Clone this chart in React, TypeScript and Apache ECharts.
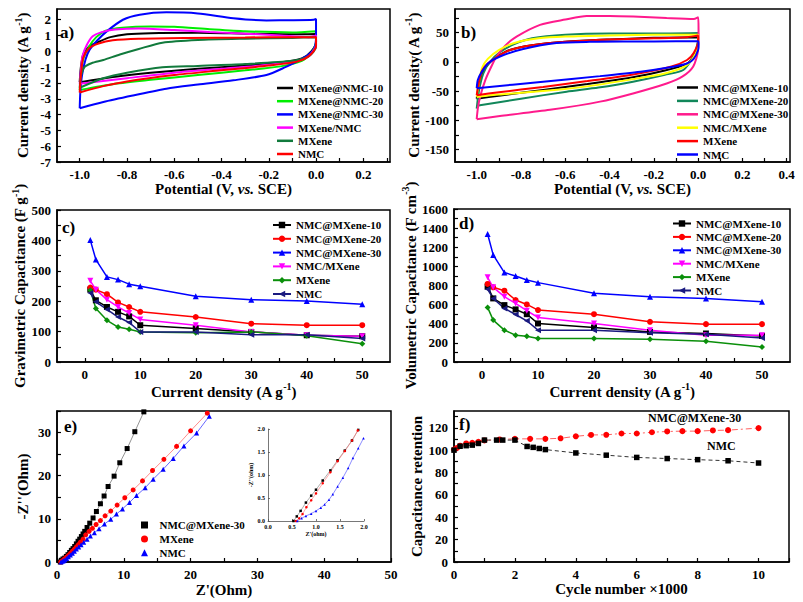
import React, { useEffect, useRef } from 'react';
import * as echarts from 'echarts';

const FONT = '"Liberation Serif", "Times New Roman", serif';

// ---------- Panel a: CV loops (V, A g-1) ----------
const A_NAMES = ['MXene@NMC-10', 'MXene@NMC-20', 'MXene@NMC-30', 'MXene/NMC', 'MXene', 'NMC'];
const A_COLORS = ['#000000', '#00ee00', '#0000ff', '#ff00ff', '#117a3c', '#ff0000'];
const A_MXNMC10 = [[-1.0,-1.95],[-0.995,-1.0],[-0.985,-0.2],[-0.96,0.3],[-0.92,0.6],[-0.87,0.9],[-0.8,1.08],[-0.7,1.15],[-0.5,1.17],[-0.3,1.12],[-0.1,1.08],[0,1.1],[0,0.6],[-0.02,0.0],[-0.06,-0.45],[-0.15,-0.7],[-0.3,-0.9],[-0.5,-1.1],[-0.7,-1.35],[-0.85,-1.6],[-1.0,-1.95]];
const A_MXNMC20 = [[-1.0,-2.45],[-0.995,-1.5],[-0.985,-0.5],[-0.96,0.3],[-0.93,0.9],[-0.89,1.3],[-0.82,1.5],[-0.7,1.58],[-0.6,1.55],[-0.45,1.4],[-0.3,1.27],[-0.1,1.2],[0,1.28],[0,0.6],[-0.02,-0.1],[-0.06,-0.6],[-0.15,-0.95],[-0.3,-1.2],[-0.5,-1.5],[-0.7,-1.8],[-0.85,-2.05],[-1.0,-2.45]];
const A_MXNMC30 = [[-1.0,-3.6],[-0.997,-2.5],[-0.99,-1.5],[-0.975,-0.5],[-0.958,0.1],[-0.925,0.7],[-0.887,1.25],[-0.817,2.0],[-0.746,2.32],[-0.633,2.47],[-0.5,2.4],[-0.35,2.1],[-0.21,1.96],[-0.1,1.97],[-0.01,2.0],[0,2.05],[0,0.8],[-0.01,0.1],[-0.04,-0.3],[-0.07,-0.55],[-0.13,-1.0],[-0.21,-1.5],[-0.35,-1.83],[-0.5,-2.1],[-0.633,-2.36],[-0.774,-2.79],[-0.9,-3.2],[-1.0,-3.6]];
const A_MXSLASH = [[-1.0,-2.05],[-0.995,-1.2],[-0.988,-0.3],[-0.97,0.4],[-0.945,0.95],[-0.91,1.2],[-0.85,1.38],[-0.75,1.45],[-0.6,1.35],[-0.45,1.22],[-0.3,1.12],[-0.15,1.0],[-0.03,0.9],[0,1.0],[0,0.4],[-0.03,-0.3],[-0.08,-0.6],[-0.2,-0.85],[-0.4,-1.1],[-0.6,-1.35],[-0.8,-1.7],[-1.0,-2.05]];
const A_MXENE = [[-1.0,-2.3],[-0.995,-1.6],[-0.98,-1.0],[-0.95,-0.75],[-0.9,-0.55],[-0.83,-0.2],[-0.75,0.15],[-0.65,0.55],[-0.5,0.72],[-0.3,0.8],[-0.1,0.85],[0,0.9],[0,0.3],[-0.03,-0.3],[-0.1,-0.6],[-0.3,-0.8],[-0.5,-0.92],[-0.65,-1.0],[-0.8,-1.35],[-0.9,-1.7],[-1.0,-2.3]];
const A_NMC = [[-1.0,-2.6],[-0.995,-1.5],[-0.985,-0.4],[-0.96,0.2],[-0.92,0.5],[-0.86,0.7],[-0.75,0.8],[-0.55,0.85],[-0.3,0.88],[-0.1,0.9],[0,0.9],[0,0.3],[-0.03,-0.3],[-0.08,-0.65],[-0.2,-0.9],[-0.4,-1.2],[-0.6,-1.5],[-0.8,-1.9],[-0.9,-2.2],[-1.0,-2.6]];
const A_DATA = [A_MXNMC10, A_MXNMC20, A_MXNMC30, A_MXSLASH, A_MXENE, A_NMC];

// ---------- Panel b: CV loops ----------
const B_NAMES = ['NMC@MXene-10', 'NMC@MXene-20', 'NMC@MXene-30', 'NMC/MXene', 'MXene', 'NMC'];
const B_COLORS = ['#000000', '#11875a', '#ff1a8c', '#ffff00', '#ff0000', '#0000ff'];
const B_N10 = [[-1.0,-63],[-0.99,-40],[-0.975,-20],[-0.95,-5],[-0.91,8],[-0.85,20],[-0.75,28],[-0.6,34],[-0.4,38],[-0.2,41],[0,42],[0,30],[-0.02,10],[-0.05,-3],[-0.15,-15],[-0.3,-27],[-0.5,-38],[-0.7,-48],[-0.9,-58],[-1.0,-63]];
const B_N20 = [[-1.0,-80],[-0.99,-50],[-0.97,-20],[-0.94,0],[-0.9,15],[-0.83,30],[-0.75,40],[-0.6,46],[-0.4,48],[-0.2,48],[0,49],[0,40],[-0.02,10],[-0.067,-14],[-0.15,-22],[-0.294,-34],[-0.45,-44],[-0.594,-51],[-0.8,-63],[-1.0,-75]];
const B_N30 = [[-1.0,-98],[-0.995,-80],[-0.985,-60],[-0.96,-30],[-0.93,-5],[-0.91,9],[-0.87,28],[-0.82,43],[-0.714,63],[-0.6,72],[-0.503,78],[-0.4,78],[-0.293,77],[-0.142,74.5],[-0.02,73],[0,76],[0.002,55],[0,20],[-0.022,-8],[-0.07,-25],[-0.142,-37],[-0.294,-54],[-0.443,-68],[-0.669,-82],[-0.895,-92.6],[-1.0,-98]];
const B_NSLASH = [[-1.0,-60],[-0.99,-35],[-0.975,-10],[-0.95,5],[-0.9,20],[-0.83,32],[-0.72,40],[-0.6,43],[-0.4,45],[-0.2,46],[0,46],[0,30],[-0.02,8],[-0.06,-8],[-0.15,-20],[-0.3,-30],[-0.5,-42],[-0.7,-50],[-0.9,-56],[-1.0,-60]];
const B_MXENE = [[-1.0,-57],[-0.99,-35],[-0.975,-15],[-0.95,-3],[-0.9,10],[-0.85,20],[-0.75,28],[-0.6,34],[-0.4,38],[-0.2,40],[-0.05,42],[0,45],[0,35],[-0.02,15],[-0.05,3],[-0.12,-8],[-0.3,-22],[-0.5,-33],[-0.7,-43],[-0.9,-52],[-1.0,-57]];
const B_NMC = [[-1.0,-45],[-0.995,-31],[-0.977,-17],[-0.948,-2.4],[-0.895,9],[-0.79,21.6],[-0.64,31.8],[-0.49,34],[-0.3,34.5],[-0.1,34.8],[0,35],[0.002,30],[0,20],[-0.02,5],[-0.05,-3],[-0.12,-9],[-0.26,-17],[-0.443,-24.5],[-0.7,-34],[-1.0,-45]];
const B_DATA = [B_N10, B_N20, B_N30, B_NSLASH, B_MXENE, B_NMC];

// ---------- Panels c, d: rate capability ----------
const CD_X = [1, 2, 4, 6, 8, 10, 20, 30, 40, 50];
const CD_NAMES = ['NMC@MXene-10', 'NMC@MXene-20', 'NMC@MXene-30', 'NMC/MXene', 'MXene', 'NMC'];
const CD_COLORS = ['#000000', '#ff0000', '#0000ff', '#ff00ff', '#0a8f0a', '#1a1a80'];
const CD_SYMBOLS = ['rect', 'circle', 'triangle', 'triangle', 'diamond', 'triangle'];
const CD_ROTATE = [0, 0, 0, 180, 0, 90];
const C_N10 = [238, 203, 181, 165, 150, 121, 110, 99, 88, 85];
const C_N20 = [245, 238, 223, 196, 181, 165, 148, 126, 121, 121];
const C_N30 = [401, 337, 280, 271, 256, 249, 216, 205, 201, 190];
const C_NSLASH = [267, 238, 205, 181, 161, 140, 121, 99, 88, 85];
const C_MXENE = [236, 176, 137, 115, 108, 99, 96, 99, 86, 60];
const C_NMC = [227, 198, 173, 148, 130, 99, 99, 90, 90, 77];
const C_DATA = [C_N10, C_N20, C_N30, C_NSLASH, C_MXENE, C_NMC];
const D_N10 = [788, 665, 595, 550, 500, 403, 361, 315, 298, 273];
const D_N20 = [816, 781, 746, 648, 602, 543, 500, 420, 396, 396];
const D_N30 = [1338, 1120, 935, 900, 858, 830, 718, 683, 665, 630];
const D_NSLASH = [886, 781, 683, 613, 536, 466, 403, 333, 280, 280];
const D_MXENE = [571, 438, 333, 280, 270, 245, 245, 238, 217, 158];
const D_NMC = [760, 665, 560, 497, 431, 333, 333, 305, 291, 252];
const D_DATA = [D_N10, D_N20, D_N30, D_NSLASH, D_MXENE, D_NMC];

// ---------- Panel e: Nyquist ----------
const E_NAMES = ['NMC@MXene-30', 'MXene', 'NMC'];
const E_COLORS = ['#000000', '#ff0000', '#0000ff'];
const E_LINE = ['#777777', '#ff7070', '#4040ff'];
const E_SYMBOLS = ['rect', 'circle', 'triangle'];
const E_N30 = [[0.5,0],[0.65,0.4],[0.9,0.7],[1.15,0.9],[1.4,1.3],[1.65,1.7],[1.9,2.2],[2.15,2.7],[2.4,3.1],[2.65,3.6],[2.9,4.2],[3.15,4.8],[3.4,5.3],[3.65,5.9],[3.9,6.5],[4.15,7.1],[4.5,8.0],[4.9,9.0],[5.4,10.2],[5.9,11.7],[6.5,13.5],[7.05,15.3],[7.65,17.5],[8.55,19.9],[9.4,23.0],[10.5,26.3],[11.65,30.2],[13.0,34.8]];
const E_MXENE = [[0.55,0],[0.8,0.3],[1.1,0.7],[1.4,1.1],[1.7,1.5],[2.0,2.0],[2.3,2.5],[2.6,3.0],[2.9,3.5],[3.2,4.0],[3.5,4.6],[3.9,5.3],[4.3,6.3],[4.8,7.1],[5.3,7.8],[5.85,8.7],[6.5,9.6],[7.2,10.7],[8.05,11.8],[9.0,13.2],[10.15,14.9],[11.4,16.7],[12.8,18.8],[14.3,21.2],[16.0,23.8],[17.9,26.8],[20.0,30.4],[22.5,34.5]];
const E_NMC = [[0.6,0],[0.8,0.15],[1.0,0.3],[1.2,0.5],[1.45,0.8],[1.7,1.2],[2.0,1.6],[2.3,2.0],[2.6,2.5],[2.9,3.0],[3.25,3.5],[3.6,4.0],[4.0,4.6],[4.5,5.3],[5.0,6.0],[5.6,6.8],[6.3,7.7],[7.1,8.8],[8.05,9.9],[8.9,11.1],[9.8,12.3],[10.85,13.8],[11.9,15.4],[13.2,17.2],[14.4,19.2],[15.9,21.5],[17.4,24.0],[19.0,26.9],[20.9,29.9],[22.8,33.8]];
const E_DATA = [E_N30, E_MXENE, E_NMC];
// inset
const EI_N30 = [[0.53,0],[0.6,0.1],[0.68,0.22],[0.79,0.4],[0.9,0.55],[1.0,0.68],[1.14,0.88],[1.3,1.1],[1.45,1.32],[1.6,1.53],[1.75,1.75],[1.88,1.98]];
const EI_MXENE = [[0.58,0],[0.65,0.06],[0.72,0.15],[0.8,0.3],[0.9,0.45],[1.0,0.6],[1.14,0.82],[1.3,1.06],[1.45,1.3],[1.6,1.52],[1.75,1.75],[1.87,1.97]];
const EI_NMC = [[0.61,0],[0.7,0.06],[0.79,0.11],[0.9,0.16],[1.0,0.22],[1.1,0.29],[1.18,0.36],[1.27,0.46],[1.35,0.58],[1.45,0.75],[1.56,0.94],[1.67,1.15],[1.77,1.37],[1.88,1.58],[1.99,1.8]];
const EI_DATA = [EI_N30, EI_MXENE, EI_NMC];

// ---------- Panel f: cycling ----------
const F_RED_X = [0, 0.1, 0.2, 0.4, 0.6, 0.8, 1.0, 1.5, 2.0, 2.5, 3.0, 3.5, 4.0, 4.5, 5.0, 5.5, 6.0, 6.5, 7.0, 7.5, 8.0, 8.5, 9.0, 10.0];
const F_RED_Y = [100.6, 102, 104, 106, 106.6, 107.5, 108.7, 109.6, 110.1, 110.1, 110.1, 110.6, 112.4, 113.6, 113.7, 114.9, 114.9, 116, 116.7, 117, 117, 117.6, 117.9, 119.7];
const F_BLK_X = [0, 0.2, 0.4, 0.6, 0.8, 1.0, 1.4, 1.6, 2.0, 2.4, 2.6, 2.8, 3.0, 4.0, 5.0, 6.0, 7.0, 8.0, 9.0, 10.0];
const F_BLK_Y = [100, 103.5, 104, 104.5, 106, 109, 109, 109, 109, 103.3, 102.5, 101.5, 100.5, 97.5, 95.5, 93.5, 92.5, 91.5, 90.5, 88.5];

const range = (a: number, b: number, s: number) => { const r: number[] = []; for (let i = 0; a + i * s <= b + 1e-9; i++) r.push(+(a + i * s).toFixed(4)); return r; };

const nameStyle = (fs = 15) => ({
  fontFamily: FONT, fontWeight: 'bold', fontSize: fs, color: '#000',
  rich: {
    n: { fontFamily: FONT, fontWeight: 'bold', fontSize: fs, color: '#000', lineHeight: 20 },
    i: { fontFamily: FONT, fontWeight: 'bold', fontStyle: 'italic', fontSize: fs, color: '#000', lineHeight: 20 },
    s: { fontFamily: FONT, fontWeight: 'bold', fontSize: 10, color: '#000', verticalAlign: 'top', lineHeight: 12 },
  },
});

function axis(kind: 'x' | 'y', gi: number, min: number, max: number, labels: number[], ticks: number[], fmt: (v: number) => string, name: string, nameGap: number, small = false) {
  return {
    type: 'value', gridIndex: gi, min, max,
    position: kind === 'x' ? 'bottom' : 'left',
    axisLine: { show: true, onZero: false, lineStyle: { color: small ? '#555' : '#000', width: small ? 0.8 : 1.5 } },
    axisTick: { show: true, inside: true, length: small ? 2 : 4, customValues: ticks, lineStyle: { color: small ? '#555' : '#000', width: small ? 0.8 : 1.2 } },
    axisLabel: { show: true, customValues: labels, formatter: fmt, margin: small ? 3 : 6, fontFamily: FONT, fontWeight: 'bold', fontSize: small ? 6 : 13, color: '#000' },
    splitLine: { show: false },
    name, nameLocation: 'middle', nameGap,
    nameTextStyle: small ? { fontFamily: FONT, fontWeight: 'bold', fontSize: 6, color: '#000' } : nameStyle(15),
  };
}

const f1 = (v: number) => v.toFixed(1);
const f0 = (v: number) => String(Math.round(v));

const SUP = (s: string) => `{s|${s}}`;

export default function App() {
  const ref = useRef<HTMLDivElement>(null);
  useEffect(() => {
    if (!ref.current) return;
    const chart = echarts.init(ref.current, undefined, { renderer: 'svg' });
    const gridBase = { show: true, borderColor: '#000', borderWidth: 1.5, backgroundColor: 'transparent' };
    const grid = [
      { ...gridBase, left: 57, top: 9, width: 333, height: 153 },
      { ...gridBase, left: 455, top: 9, width: 335, height: 153 },
      { ...gridBase, left: 57, top: 210, width: 333, height: 152 },
      { ...gridBase, left: 454, top: 209, width: 336, height: 153 },
      { ...gridBase, left: 57, top: 411, width: 334, height: 151 },
      { ...gridBase, left: 454, top: 411, width: 335, height: 151 },
      { show: false, left: 268, top: 429, width: 96, height: 92 },
    ];
    const xAxis = [
      axis('x', 0, -1.096, 0.313, range(-1, 0.2, 0.2), range(-1, 0.3, 0.1), f1, '{n|Potential (V, }{i|vs.}{n| SCE)}', 15),
      axis('x', 1, -1.098, 0.415, range(-1, 0.4, 0.2), range(-1, 0.4, 0.1), f1, '{n|Potential (V, }{i|vs.}{n| SCE)}', 16),
      axis('x', 2, -5, 55, range(0, 50, 10), range(0, 50, 5), f0, `{n|Current density (A g}${SUP('-1')}{n|)}`, 18),
      axis('x', 3, -5, 55, range(0, 50, 10), range(0, 50, 5), f0, `{n|Current density (A g}${SUP('-1')}{n|)}`, 17),
      axis('x', 4, 0, 50, range(0, 50, 10), range(0, 50, 5), f0, "{n|Z'(Ohm)}", 18),
      axis('x', 5, 0, 11, range(0, 10, 2), range(0, 11, 1), f0, '{n|Cycle number ×1000}', 17),
      axis('x', 6, 0, 2, range(0, 2, 0.5), range(0, 2, 0.5), f1, "Z'(ohm)", 10, true),
    ];
    const yAxis = [
      axis('y', 0, -7, 2.68, range(-7, 2, 1), range(-7, 2, 1), f0, `{n|Current density (A g}${SUP('-1')}{n|)}`, 24),
      axis('y', 1, -171, 90, range(-150, 50, 50), range(-150, 75, 25), f0, `{n|Current density( A g}${SUP('-1')}{n|)}`, 25),
      axis('y', 2, 0, 500, range(0, 500, 100), range(0, 500, 50), f0, `{n|Gravimetric Capacitance (F g}${SUP('-1')}{n|)}`, 27),
      axis('y', 3, 0, 1600, range(0, 1600, 200), range(0, 1600, 100), f0, `{n|Volumetric Capacitance (F cm}${SUP('-3')}{n|)}`, 27),
      axis('y', 4, 0, 35, range(0, 30, 10), range(0, 35, 5), f0, "{n|-Z''(Ohm)}", 24),
      axis('y', 5, 0, 135, range(0, 120, 20), range(0, 130, 10), f0, '{n|Capacitance retention}', 26),
      axis('y', 6, 0, 2, range(0, 2, 0.5), range(0, 2, 0.5), f1, "-Z''(ohm)", 10, true),
    ];

    const series: any[] = [];
    A_NAMES.forEach((n, i) => series.push({
      type: 'line', name: n + '#a', xAxisIndex: 0, yAxisIndex: 0, data: A_DATA[i],
      showSymbol: false, symbol: 'none', smooth: 0.25, lineStyle: { color: A_COLORS[i], width: 2 }, itemStyle: { color: A_COLORS[i] },
    }));
    B_NAMES.forEach((n, i) => series.push({
      type: 'line', name: n + '#b', xAxisIndex: 1, yAxisIndex: 1, data: B_DATA[i],
      showSymbol: false, symbol: 'none', smooth: 0.25, lineStyle: { color: B_COLORS[i], width: 2 }, itemStyle: { color: B_COLORS[i] },
    }));
    CD_NAMES.forEach((n, i) => series.push({
      type: 'line', name: n + '#c', xAxisIndex: 2, yAxisIndex: 2, data: CD_X.map((x, k) => [x, C_DATA[i][k]]),
      symbol: CD_SYMBOLS[i], symbolRotate: CD_ROTATE[i], symbolSize: 6, lineStyle: { color: CD_COLORS[i], width: 1.5 }, itemStyle: { color: CD_COLORS[i] },
    }));
    CD_NAMES.forEach((n, i) => series.push({
      type: 'line', name: n + '#d', xAxisIndex: 3, yAxisIndex: 3, data: CD_X.map((x, k) => [x, D_DATA[i][k]]),
      symbol: CD_SYMBOLS[i], symbolRotate: CD_ROTATE[i], symbolSize: 6, lineStyle: { color: CD_COLORS[i], width: 1.5 }, itemStyle: { color: CD_COLORS[i] },
    }));
    E_NAMES.forEach((n, i) => series.push({
      type: 'line', name: n + '#e', xAxisIndex: 4, yAxisIndex: 4, data: E_DATA[i],
      symbol: E_SYMBOLS[i], symbolSize: 5, lineStyle: { color: E_LINE[i], width: 0.8 }, itemStyle: { color: E_COLORS[i] },
    }));
    E_NAMES.forEach((n, i) => series.push({
      type: 'line', name: n + '#ei', xAxisIndex: 6, yAxisIndex: 6, data: EI_DATA[i],
      symbol: E_SYMBOLS[i], symbolSize: 2.5, lineStyle: { color: E_LINE[i], width: 0.6 }, itemStyle: { color: E_COLORS[i] },
    }));
    series.push({
      type: 'line', name: 'NMC@MXene-30#f', xAxisIndex: 5, yAxisIndex: 5, data: F_RED_X.map((x, k) => [x, F_RED_Y[k]]),
      symbol: 'circle', symbolSize: 6, lineStyle: { color: '#ff6060', width: 1, type: [6, 3, 2, 3] }, itemStyle: { color: '#ff0000' },
    });
    series.push({
      type: 'line', name: 'NMC#f', xAxisIndex: 5, yAxisIndex: 5, data: F_BLK_X.map((x, k) => [x, F_BLK_Y[k]]),
      symbol: 'rect', symbolSize: 5.5, lineStyle: { color: '#333', width: 1, type: [4, 3] }, itemStyle: { color: '#000' },
    });

    const legText = { fontFamily: FONT, fontWeight: 'bold', fontSize: 11, color: '#000' };
    const strip = (n: string) => n.replace(/#.*$/, '');
    const legend = [
      { orient: 'vertical', padding: 0, left: 277, top: 82.5, itemWidth: 16, itemHeight: 2.5, itemGap: 2.2, icon: 'rect', textStyle: legText, formatter: strip, data: A_NAMES.map((n) => n + '#a') },
      { orient: 'vertical', padding: 0, left: 677, top: 82, itemWidth: 21, itemHeight: 2.5, itemGap: 2.4, icon: 'rect', textStyle: legText, formatter: strip, data: B_NAMES.map((n) => n + '#b') },
      { orient: 'vertical', padding: 0, left: 272, top: 219.5, itemWidth: 18, itemHeight: 8, itemGap: 2.8, textStyle: legText, formatter: strip, data: CD_NAMES.map((n) => n + '#c') },
      { orient: 'vertical', padding: 0, left: 672, top: 218, itemWidth: 18, itemHeight: 8, itemGap: 2.4, textStyle: legText, formatter: strip, data: CD_NAMES.map((n) => n + '#d') },
      { orient: 'vertical', padding: 0, left: 141, top: 519.5, itemWidth: 20, itemHeight: 7, itemGap: 2.9, textStyle: legText, formatter: strip,
        data: [
          { name: 'NMC@MXene-30#e', icon: 'path://M0,0H10V10H0Z' },
          { name: 'MXene#e', icon: 'path://M5,0A5,5,0,1,1,5,10A5,5,0,1,1,5,0Z' },
          { name: 'NMC#e', icon: 'path://M5,0L10,10L0,10Z' },
        ] },
    ];

    const lab = (text: string, x: number, y: number, fs = 17) => ({
      type: 'text', left: x, top: y, style: { text, fontFamily: FONT, fontWeight: 'bold', fontSize: fs, fill: '#000' },
    });
    const graphic = [
      lab('a)', 60, 24), lab('b)', 461, 24), lab('c)', 62, 219), lab('d)', 459, 215), lab('e)', 64, 418), lab('f)', 459, 416),
      lab('NMC@MXene-30', 648, 412, 12), lab('NMC', 707, 440, 12),
    ];

    chart.setOption({
      animation: false,
      backgroundColor: '#fff',
      textStyle: { fontFamily: FONT },
      grid, xAxis, yAxis, series, legend, graphic,
    });
    return () => chart.dispose();
  }, []);
  return <div ref={ref} style={{ position: 'absolute', left: 0, top: 0, width: 803, height: 602 }} />;
}
